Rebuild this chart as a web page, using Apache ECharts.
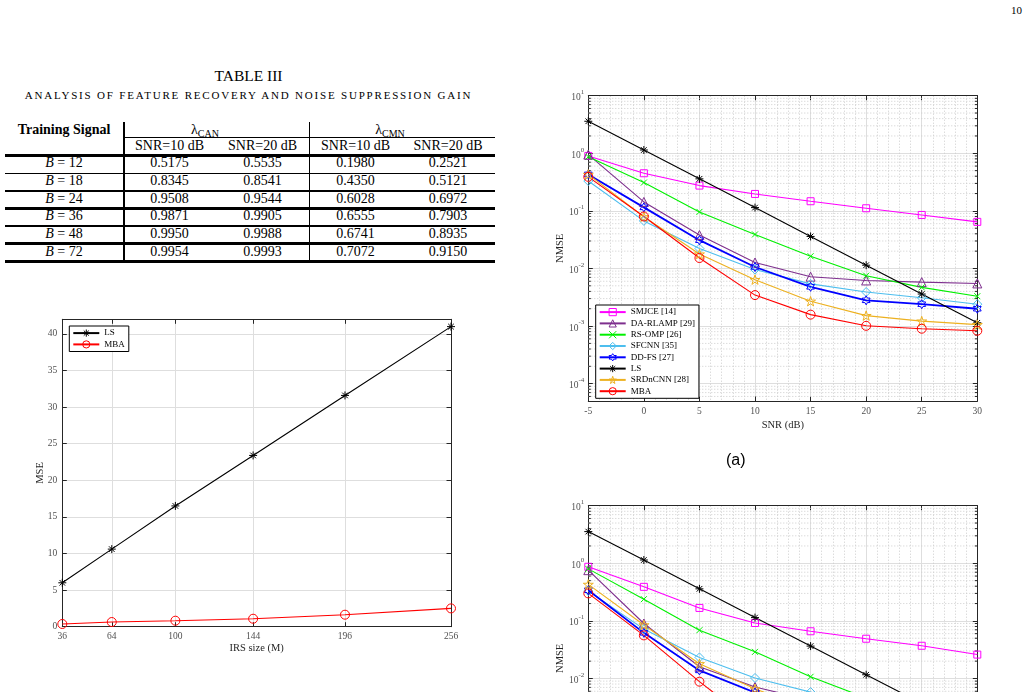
<!DOCTYPE html>
<html>
<head>
<meta charset="utf-8">
<script src="https://cdn.jsdelivr.net/npm/echarts@6/dist/echarts.min.js"></script>
<style>
html, body { margin: 0; padding: 0; width: 1031px; height: 692px; overflow: hidden; background: #fff; }
body { position: relative; font-family: "Liberation Serif", "Times New Roman", serif; color: #000; }
.abs { position: absolute; white-space: nowrap; }
#page-no { left: 1011px; top: 4px; font-size: 11px; }
#tab-title { left: 0; width: 497px; top: 67px; text-align: center; font-size: 15.5px; }
#tab-sub { left: 0; width: 497px; top: 89px; text-align: center; font-size: 11px; letter-spacing: 1.8px; }
#fig-a-tag { left: 726px; top: 451px; font-family: "Liberation Sans", Arial, sans-serif; font-size: 16px; }
.cell { position: absolute; transform: translate(-50%, -50%); font-size: 14px; white-space: nowrap; }
.rule { position: absolute; background: #000; }
#table { position: absolute; left: 0; top: 0; width: 500px; height: 280px; }
#mse-chart { position: absolute; left: 0; top: 300px; width: 490px; height: 370px; }
#nmse-a { position: absolute; left: 540px; top: 80px; width: 470px; height: 400px; }
#nmse-b { position: absolute; left: 540px; top: 490px; width: 470px; height: 202px; }
</style>
</head>
<body>
<div class="abs" id="page-no">10</div>
<div class="abs" id="tab-title">TABLE III</div>
<div class="abs" id="tab-sub">ANALYSIS OF FEATURE RECOVERY AND NOISE SUPPRESSION GAIN</div>
<div id="table"></div>
<div id="mse-chart"></div>
<div id="nmse-a"></div>
<div class="abs" id="fig-a-tag">(a)</div>
<div id="nmse-b"></div>

<script>
// ---- table data ----
const trainingB = [12, 18, 24, 36, 48, 72];
const canSnr10 = [0.5175, 0.8345, 0.9508, 0.9871, 0.9950, 0.9954];
const canSnr20 = [0.5535, 0.8541, 0.9544, 0.9905, 0.9988, 0.9993];
const cmnSnr10 = [0.1980, 0.4350, 0.6028, 0.6555, 0.6741, 0.7072];
const cmnSnr20 = [0.2521, 0.5121, 0.6972, 0.7903, 0.8935, 0.9150];

// ---- MSE vs IRS size ----
const irsSize = [36, 64, 100, 144, 196, 256];
const mseLs = [6.0, 10.6, 16.5, 23.4, 31.6, 41.0];
const mseMba = [0.37, 0.64, 0.82, 1.09, 1.64, 2.5];

// ---- NMSE vs SNR ----
const snrDb = [-5, 0, 5, 10, 15, 20, 25, 30];

const smjceA = [0.90, 0.45, 0.275, 0.197, 0.147, 0.111, 0.085, 0.0645];
const daRlampA = [0.95, 0.143, 0.038, 0.0127, 0.0072, 0.0062, 0.0058, 0.0055];
const rsOmpA = [0.87, 0.31, 0.096, 0.039, 0.0163, 0.0075, 0.0047, 0.0033];
const sfcnnA = [0.33, 0.067, 0.0222, 0.0096, 0.0054, 0.0039, 0.0031, 0.0024];
const ddFsA = [0.43, 0.115, 0.031, 0.0106, 0.0048, 0.0028, 0.0024, 0.0020];
const lsA = [3.6, 1.14, 0.36, 0.114, 0.036, 0.0114, 0.0036, 0.00114];
const srdncnnA = [0.43, 0.079, 0.0178, 0.0064, 0.0027, 0.00152, 0.00122, 0.00106];
const mbaA = [0.39, 0.080, 0.0152, 0.00345, 0.00158, 0.00101, 0.00090, 0.00083];

const smjceB = [0.87, 0.39, 0.168, 0.092, 0.066, 0.049, 0.037, 0.026];
const daRlampB = [0.76, 0.090, 0.016, 0.0071, 0.0042, 0.0032, 0.0028, 0.0026];
const rsOmpB = [0.80, 0.238, 0.069, 0.029, 0.0107, 0.0046, 0.0026, 0.0016];
const sfcnnB = [0.33, 0.072, 0.0232, 0.0102, 0.0058, 0.0036, 0.0026, 0.0021];
const ddFsB = [0.34, 0.062, 0.0138, 0.0057, 0.0030, 0.0019, 0.0015, 0.0013];
const lsB = [3.55, 1.14, 0.36, 0.114, 0.0365, 0.0116, 0.0037, 0.00117];
const srdncnnB = [0.43, 0.085, 0.018, 0.0066, 0.0029, 0.0015, 0.0011, 0.00095];
const mbaB = [0.30, 0.056, 0.0088, 0.0016, 0.00085, 0.0006, 0.00052, 0.00048];

const minorMantissa = [2, 3, 4, 5, 6, 7, 8, 9];
const minorDecades = [-5, -4, -3, -2, -1, 0];

const serif = '"Liberation Serif", "Times New Roman", serif';
const axisInk = "#262626";
const labelInk = "#505050";
const majorGrid = "#dedede";
const minorGrid = "#cccccc";

// marker shapes, MATLAB style
const SYM = {
    square: "rect",
    triangle: "triangle",
    cross: "path://M0 0L20 20M20 0L0 20",
    diamond: "diamond",
    hexagram: "path://M10 0L12.89 5L18.66 5L15.77 10L18.66 15L12.89 15L10 20L7.11 15L1.34 15L4.23 10L1.34 5L7.11 5Z",
    asterisk: "path://M10 0L10 20M0 10L20 10M3 3L17 17M17 3L3 17",
    pentagram: "path://M10 0L12.25 6.91L19.51 6.91L13.63 11.18L15.88 18.09L10 13.82L4.12 18.09L6.37 11.18L0.49 6.91L7.75 6.91Z",
    circle: "circle"
};

// ---- table ----
function buildTable() {
    const box = document.getElementById("table");
    const colX = [64, 169.5, 262.5, 355.5, 448];
    const rowY0 = 163.3;
    const pitch = 17.65;

    function text(html, x, y, extra) {
        const el = document.createElement("div");
        el.className = "cell";
        el.style.left = x + "px";
        el.style.top = y + "px";
        if (extra) el.style.cssText += extra;
        el.innerHTML = html;
        box.appendChild(el);
    }

    function rule(x, y, w, h) {
        const el = document.createElement("div");
        el.className = "rule";
        el.style.left = x + "px";
        el.style.top = y + "px";
        el.style.width = w + "px";
        el.style.height = h + "px";
        box.appendChild(el);
    }

    text("Training Signal", colX[0], 129.5, "font-weight:bold;");
    text("&lambda;<span style='font-size:10px;position:relative;top:3px;'>CAN</span>", 205, 130);
    text("&lambda;<span style='font-size:10px;position:relative;top:3px;'>CMN</span>", 390, 130);
    ["SNR=10 dB", "SNR=20 dB", "SNR=10 dB", "SNR=20 dB"].forEach((t, i) => {
        text(t, colX[i + 1], 145.5);
    });

    trainingB.forEach((b, i) => {
        const y = rowY0 + i * pitch;
        text("<i>B</i> = " + b, colX[0], y);
        text(canSnr10[i].toFixed(4), colX[1], y);
        text(canSnr20[i].toFixed(4), colX[2], y);
        text(cmnSnr10[i].toFixed(4), colX[3], y);
        text(cmnSnr20[i].toFixed(4), colX[4], y);
    });

    // horizontal rules
    rule(124, 136.5, 371, 1);
    rule(5, 154.2, 490, 3);
    const ruleW = [1.6, 2.6, 2.6, 2.6, 2.6, 3];
    trainingB.forEach((b, i) => {
        const y = 155.7 + (i + 1) * 17.6;
        rule(5, y - ruleW[i] / 2, 490, ruleW[i]);
    });
    // vertical rules
    rule(123.2, 121.5, 1.6, 140.5);
    rule(308.5, 121.5, 1.6, 140.5);
}
buildTable();

// ---- helpers for charts ----
function lineSeries(name, xs, ys, color, symbol, size, width) {
    return {
        name: name,
        type: "line",
        data: xs.map((x, i) => [x, ys[i]]),
        symbol: symbol,
        symbolSize: size,
        symbolKeepAspect: true,
        showAllSymbol: true,
        lineStyle: { color: color, width: width },
        itemStyle: { color: "none", borderColor: color, borderWidth: 1 },
        emphasis: { disabled: true },
        z: 3
    };
}

function powerLabel(value) {
    const lg = Math.log10(value);
    const e = Math.round(lg);
    if (Math.abs(lg - e) > 1e-3) return "";
    return "{b|10}{e|" + e + "}";
}

function minorLogValues(lo, hi) {
    const out = [];
    minorDecades.forEach(d => {
        minorMantissa.forEach(m => {
            const v = m * Math.pow(10, d);
            if (v > lo && v < hi) out.push(v);
        });
    });
    return out;
}

function boxLegend(names, left, top) {
    return {
        data: names,
        orient: "vertical",
        left: left,
        top: top,
        padding: [1, 4, 1, 3],
        itemGap: -0.9,
        itemWidth: 26,
        itemHeight: 9,
        backgroundColor: "#ffffff",
        borderColor: "#000000",
        borderWidth: 1,
        borderRadius: 0,
        selectedMode: false,
        itemStyle: { borderWidth: 1 },
        textStyle: { fontFamily: serif, fontSize: 9, color: "#000", lineHeight: 9 }
    };
}

function axisName(text, gap) {
    return {
        name: text,
        nameLocation: "middle",
        nameGap: gap,
        nameMoveOverlap: false,
        nameTextStyle: { color: axisInk, fontFamily: serif, fontSize: 10.5 }
    };
}

function nmseOption(sets, withLegend) {
    const yMin = 5e-5;
    const yMax = 10;
    const xMin = -5;
    const xMax = 30;
    const minors = minorLogValues(yMin, yMax);
    const series = [
        lineSeries("SMJCE [14]", snrDb, sets[0], "#ff00ff", SYM.square, 7, 1.1),
        lineSeries("DA-RLAMP [29]", snrDb, sets[1], "#7e2f8e", SYM.triangle, 9, 1.1),
        lineSeries("RS-OMP [26]", snrDb, sets[2], "#00f000", SYM.cross, 6, 1.1),
        lineSeries("SFCNN [35]", snrDb, sets[3], "#4dbeee", SYM.diamond, 9, 1.1),
        lineSeries("DD-FS [27]", snrDb, sets[4], "#0000ff", SYM.hexagram, 9, 1.8),
        lineSeries("LS", snrDb, sets[5], "#000000", SYM.asterisk, 8, 1.1),
        lineSeries("SRDnCNN [28]", snrDb, sets[6], "#edb120", SYM.pentagram, 10, 1.1),
        lineSeries("MBA", snrDb, sets[7], "#ff0000", SYM.circle, 9, 1.1)
    ];
    const names = series.map(s => s.name);

    // dotted minor grid and short minor ticks on the log axis
    series.unshift({
        name: "minor-grid",
        type: "custom",
        silent: true,
        z: 1,
        data: minors,
        renderItem: (params, api) => {
            const v = api.value(0);
            const a = api.coord([xMin, v]);
            const b = api.coord([xMax, v]);
            const ink = { stroke: axisInk, lineWidth: 1 };
            return {
                type: "group",
                children: [
                    { type: "line", shape: { x1: a[0], y1: a[1], x2: b[0], y2: b[1] },
                      style: { stroke: minorGrid, lineWidth: 1, lineDash: [1, 2] } },
                    { type: "line", shape: { x1: a[0], y1: a[1], x2: a[0] + 2.5, y2: a[1] }, style: ink },
                    { type: "line", shape: { x1: b[0] - 2.5, y1: b[1], x2: b[0], y2: b[1] }, style: ink }
                ]
            };
        },
        encode: { y: 0 }
    });

    const xCommon = {
        type: "value", min: xMin, max: xMax, interval: 5,
        axisLine: { show: true, onZero: false, lineStyle: { color: axisInk, width: 1 } },
        axisTick: { show: true, inside: true, length: 4.5, lineStyle: { color: axisInk } }
    };
    const yCommon = {
        type: "log", logBase: 10, min: yMin, max: yMax,
        axisLine: { show: true, onZero: false, lineStyle: { color: axisInk, width: 1 } },
        axisTick: { show: true, inside: true, length: 4.5, lineStyle: { color: axisInk } }
    };

    const option = {
        animation: false,
        grid: { left: 48.3, top: 15.7, width: 389, height: 305.3, outerBoundsMode: "none" },
        xAxis: [
            Object.assign({}, xCommon, axisName("SNR (dB)", 19), {
                position: "bottom",
                axisLabel: { color: labelInk, fontFamily: serif, fontSize: 9.5, margin: 5 },
                splitLine: { show: true, lineStyle: { color: majorGrid, width: 1 } },
                minorTick: { show: false, splitNumber: 5 },
                minorSplitLine: { show: true, lineStyle: { color: minorGrid, type: [1, 2], width: 1 } }
            }),
            Object.assign({}, xCommon, {
                position: "top",
                axisLabel: { show: false },
                splitLine: { show: false }
            })
        ],
        yAxis: [
            Object.assign({}, yCommon, axisName("NMSE", 23), {
                position: "left",
                axisLabel: {
                    color: labelInk, fontFamily: serif, margin: 4,
                    formatter: powerLabel,
                    rich: {
                        b: { fontSize: 9.5, fontFamily: serif, color: labelInk, lineHeight: 14, verticalAlign: "bottom" },
                        e: { fontSize: 7, fontFamily: serif, color: labelInk, lineHeight: 8, verticalAlign: "top" }
                    }
                },
                splitLine: { show: true, lineStyle: { color: majorGrid, width: 1 } }
            }),
            Object.assign({}, yCommon, {
                position: "right",
                axisLabel: { show: false },
                splitLine: { show: false }
            })
        ],
        series: series
    };

    if (withLegend) {
        option.legend = boxLegend(names, 55.7, 225);
    }
    return option;
}

// ---- MSE chart ----
const mseChart = echarts.init(document.getElementById("mse-chart"));
const mseX = {
    type: "value", min: 36, max: 256,
    axisLine: { show: true, onZero: false, lineStyle: { color: axisInk } },
    axisTick: { show: true, inside: true, length: 4.5, customValues: irsSize, lineStyle: { color: axisInk } }
};
const mseY = {
    type: "value", min: 0, max: 42, interval: 5,
    axisLine: { show: true, onZero: false, lineStyle: { color: axisInk } },
    axisTick: { show: true, inside: true, length: 4.5, lineStyle: { color: axisInk } }
};
mseChart.setOption({
    animation: false,
    grid: { left: 62.3, top: 19.3, width: 388.7, height: 307.4, outerBoundsMode: "none" },
    legend: boxLegend(["LS", "MBA"], 69.3, 26),
    xAxis: [
        Object.assign({}, mseX, axisName("IRS size (M)", 16), {
            position: "bottom",
            axisLabel: { customValues: irsSize, color: labelInk, fontFamily: serif, fontSize: 9.5, margin: 5 },
            splitLine: { show: true, lineStyle: { color: majorGrid } }
        }),
        Object.assign({}, mseX, { position: "top", axisLabel: { show: false }, splitLine: { show: false } })
    ],
    yAxis: [
        Object.assign({}, mseY, axisName("MSE", 17), {
            position: "left",
            axisLabel: {
                color: labelInk, fontFamily: serif, fontSize: 9.5, margin: 5,
                formatter: v => (v % 5 === 0 ? String(v) : "")
            },
            splitLine: { show: true, lineStyle: { color: majorGrid } }
        }),
        Object.assign({}, mseY, { position: "right", axisLabel: { show: false }, splitLine: { show: false } })
    ],
    series: [
        lineSeries("LS", irsSize, mseLs, "#000000", SYM.asterisk, 8, 1.1),
        lineSeries("MBA", irsSize, mseMba, "#ff0000", SYM.circle, 9, 1.1)
    ]
});

// ---- NMSE charts ----
const chartA = echarts.init(document.getElementById("nmse-a"));
chartA.setOption(nmseOption([smjceA, daRlampA, rsOmpA, sfcnnA, ddFsA, lsA, srdncnnA, mbaA], true));

const chartB = echarts.init(document.getElementById("nmse-b"));
chartB.setOption(nmseOption([smjceB, daRlampB, rsOmpB, sfcnnB, ddFsB, lsB, srdncnnB, mbaB], false));
</script>
</body>
</html>
